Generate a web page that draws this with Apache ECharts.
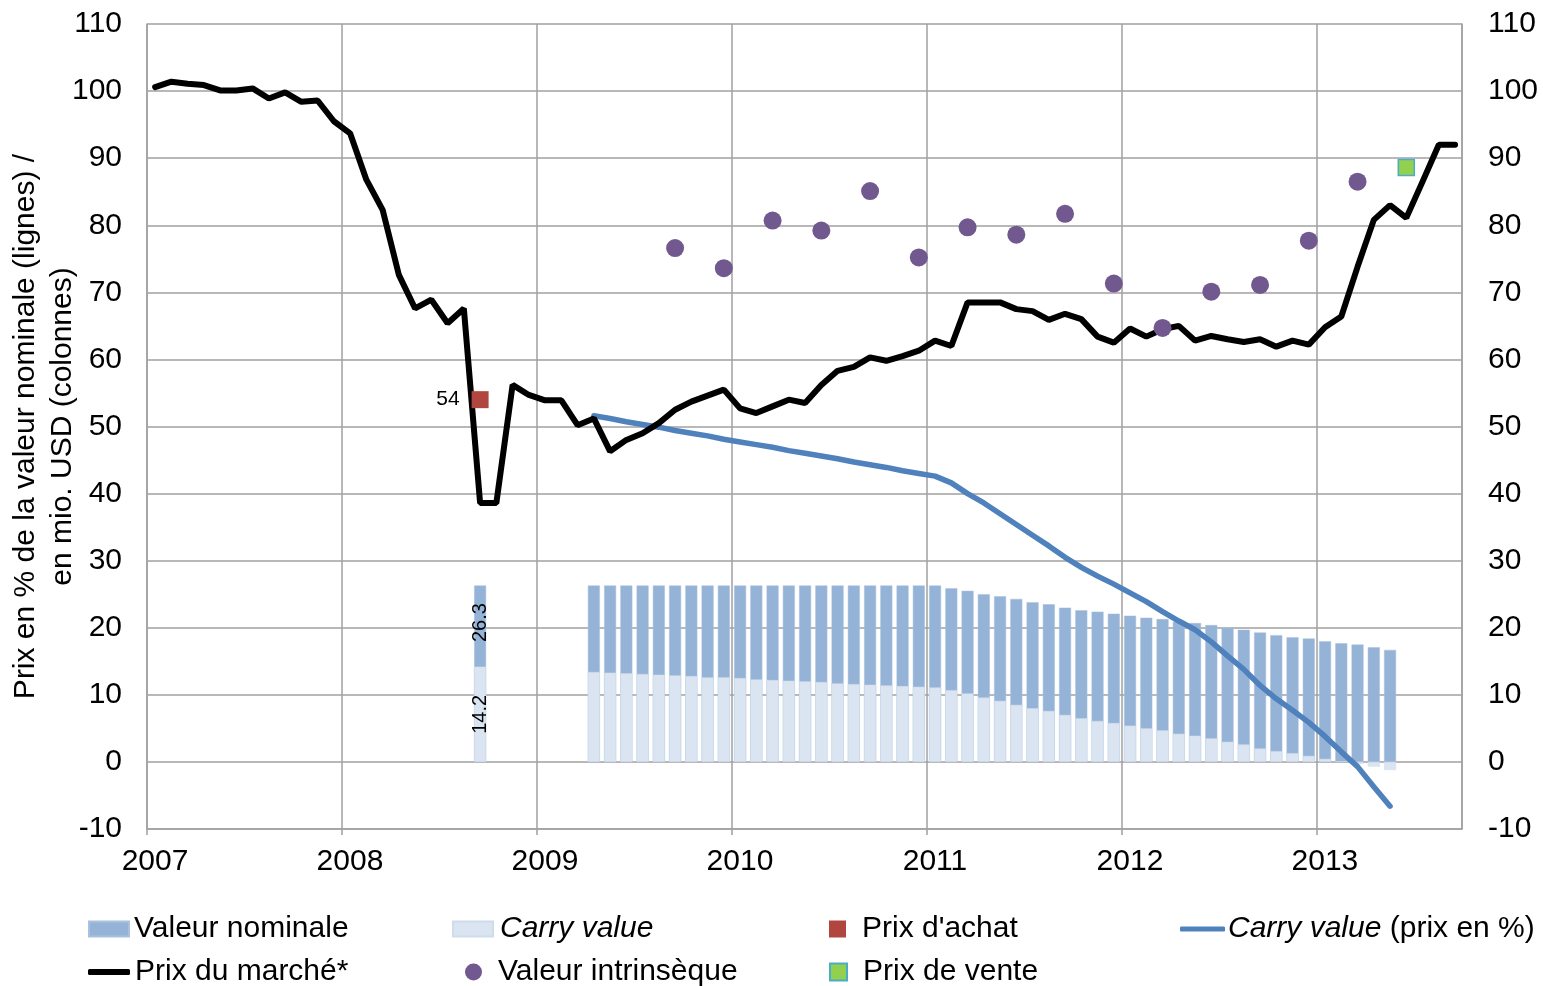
<!DOCTYPE html>
<html>
<head>
<meta charset="utf-8">
<script src="https://cdn.jsdelivr.net/npm/echarts@6/dist/echarts.min.js"></script>
<style>
  html, body { margin: 0; padding: 0; background: #fff; }
  #chart { width: 1543px; height: 986px; }
</style>
</head>
<body>
<div id="chart"></div>
<script>
// Prix du marché, mensuel (janv. 2007 - sept. 2013)
const marketStart = '2007-01'
const marketPrice = [
  100.6, 101.4, 101.1, 100.9, 100.1, 100.1, 100.4, 98.9, 99.8, 98.4, 98.6, 95.5,
  93.7, 86.8, 82.3, 72.6, 67.6, 68.9, 65.4, 67.6, 38.6, 38.6, 56.2, 54.7,
  53.9, 53.9, 50.2, 51.2, 46.3, 48.0, 49.0, 50.5, 52.5, 53.7, 54.6, 55.5,
  52.7, 52.0, 53.0, 54.0, 53.5, 56.2, 58.3, 58.9, 60.3, 59.8, 60.5, 61.3,
  62.8, 62.0, 68.5, 68.5, 68.5, 67.5, 67.2, 65.9, 66.8, 66.0, 63.4, 62.5,
  64.6, 63.4, 64.5, 65.0, 62.8, 63.5, 63.0, 62.6, 63.0, 61.9, 62.8, 62.2,
  64.8, 66.4, 73.8, 80.8, 83.0, 81.1, 86.5, 92.0, 92.0
]

// colonnes en mio. USD (avr. 2009 - mai 2013)
const barStart = '2009-04'
const nominalValue = [
  26.3, 26.3, 26.3, 26.3, 26.3, 26.3, 26.3, 26.3, 26.3, 26.3, 26.3,
  26.3, 26.3, 26.3, 26.3, 26.3, 26.3, 26.3, 26.3, 26.3, 26.3, 26.3,
  25.9, 25.5, 25.0, 24.7, 24.3, 23.8, 23.5, 23.0, 22.6, 22.4, 22.1, 21.8, 21.5, 21.3,
  20.9, 20.7, 20.4, 20.0, 19.7, 19.3, 18.9, 18.6, 18.4, 18.0, 17.7, 17.5, 17.1, 16.7
]
const carryValue = [
  13.4, 13.3, 13.2, 13.1, 13.0, 12.9, 12.8, 12.6, 12.6, 12.5, 12.3,
  12.2, 12.1, 12.0, 11.9, 11.7, 11.6, 11.5, 11.4, 11.3, 11.2, 11.1,
  10.7, 10.2, 9.6, 9.1, 8.5, 8.0, 7.6, 7.0, 6.5, 6.1, 5.8, 5.4, 5.0, 4.7,
  4.2, 3.9, 3.5, 3.0, 2.6, 2.0, 1.6, 1.3, 0.9, 0.45, 0.1, -0.3, -0.7, -1.2
]
// carry value en % de la valeur nominale
const carryPct = [
  51.6, 51.2, 50.7, 50.3, 49.9, 49.4, 49.0, 48.6, 48.1, 47.7, 47.3,
  46.9, 46.4, 46.0, 45.6, 45.2, 44.7, 44.3, 43.9, 43.4, 43.0, 42.6,
  41.6, 40.0, 38.6, 37.0, 35.4, 33.8, 32.2, 30.5, 29.0, 27.7, 26.5, 25.2, 23.9, 22.4,
  21.0, 19.7, 17.9, 15.8, 13.8, 11.4, 9.4, 7.7, 5.9, 3.8, 1.5, -0.7, -3.7, -6.6
]

// achat (sept. 2008)
const purchaseMonth = '2008-09'
const purchaseNominal = 26.3
const purchaseCarry = 14.2
const purchasePrice = 54
// vente
const saleMonth = '2013-06'
const salePrice = 88.6

// valeur intrinsèque, trimestrielle
const intrinsicMonths = ['2009-09', '2009-12', '2010-03', '2010-06', '2010-09', '2010-12', '2011-03',
  '2011-06', '2011-09', '2011-12', '2012-03', '2012-06', '2012-09', '2012-12', '2013-03']
const intrinsicValue = [76.6, 73.6, 80.7, 79.2, 85.1, 75.2, 79.7, 78.6, 81.7, 71.3, 64.7, 70.1, 71.1, 77.7, 86.5]

const FONT = 'Liberation Sans, Arial, sans-serif'
const FS = 30

// 'YYYY-MM' -> année décimale (milieu du mois)
function monthPos(s) {
  const p = s.split('-')
  return +p[0] + (+p[1] - 0.5) / 12
}
// suite de n mois à partir de start
function monthSeq(start, n) {
  let y = +start.split('-')[0]
  let m = +start.split('-')[1]
  const out = []
  for (let i = 0; i < n; i++) {
    out.push(y + '-' + String(m).padStart(2, '0'))
    m++
    if (m > 12) { m = 1; y++ }
  }
  return out
}

const marketMonths = monthSeq(marketStart, marketPrice.length)
const barMonths = monthSeq(barStart, nominalValue.length)

const labelFmt = p => String(p.value[1])

const nominalData = [{
  value: [monthPos(purchaseMonth), purchaseNominal],
  label: {
    show: true, rotate: 90, position: ['50%', '21%'], align: 'center', verticalAlign: 'middle',
    formatter: labelFmt, fontSize: 20, color: '#000', fontFamily: FONT
  }
}].concat(barMonths.map((m, i) => [monthPos(m), nominalValue[i]]))

const carryData = [{
  value: [monthPos(purchaseMonth), purchaseCarry],
  label: {
    show: true, rotate: 90, position: 'inside',
    formatter: labelFmt, fontSize: 20, color: '#000', fontFamily: FONT
  }
}].concat(barMonths.map((m, i) => [monthPos(m), carryValue[i]]))

const chart = echarts.init(document.getElementById('chart'))

const legendText = { fontSize: FS, color: '#000', fontFamily: FONT }
function legendAt(left, top, name, extra) {
  return Object.assign({
    selectedMode: false,
    padding: 0,
    itemGap: 0,
    left: left,
    top: top,
    data: [name],
    textStyle: legendText
  }, extra || {})
}
const italicRich = { i: { fontStyle: 'italic', fontSize: FS, color: '#000', fontFamily: FONT } }

const option = {
  backgroundColor: '#fff',
  animation: false,
  grid: { left: 147, right: 81, top: 24, bottom: 157, outerBoundsMode: 'none' },
  xAxis: {
    type: 'value',
    min: 2007,
    max: 2013.744,
    interval: 1,
    axisLine: { show: true, onZero: false, lineStyle: { color: '#a0a0a0', width: 1.5 } },
    axisTick: { show: true, length: 6, lineStyle: { color: '#a0a0a0', width: 1.5 } },
    splitLine: { show: true, lineStyle: { color: '#a0a0a0', width: 1.5 } },
    axisLabel: {
      fontSize: FS, color: '#000', fontFamily: FONT, margin: 18,
      padding: [0, 0, 0, 16],
      showMaxLabel: false,
      formatter: v => (Math.abs(v - Math.round(v)) < 1e-6 ? String(Math.round(v)) : '')
    }
  },
  yAxis: [{
    type: 'value',
    min: -10, max: 110, interval: 10,
    name: 'Prix en % de la valeur nominale (lignes) /\nen mio. USD (colonnes)',
    nameLocation: 'middle',
    nameRotate: 90,
    nameGap: 66,
    nameMoveOverlap: false,
    nameTextStyle: { fontSize: FS, color: '#000', fontFamily: FONT, lineHeight: 37 },
    axisLine: { show: true, lineStyle: { color: '#a0a0a0', width: 1.5 } },
    axisTick: { show: false },
    splitLine: { show: true, lineStyle: { color: '#a0a0a0', width: 1.5 } },
    axisLabel: { fontSize: FS, color: '#000', fontFamily: FONT, margin: 25 }
  }, {
    type: 'value',
    position: 'right',
    min: -10, max: 110, interval: 10,
    axisLine: { show: true, lineStyle: { color: '#a0a0a0', width: 1.5 } },
    axisTick: { show: false },
    splitLine: { show: false },
    axisLabel: { fontSize: FS, color: '#000', fontFamily: FONT, margin: 26 }
  }],
  legend: [
    legendAt(88, 914, 'Valeur nominale', { icon: 'rect', itemWidth: 40, itemHeight: 15 }),
    legendAt(452, 914, 'Carry value', {
      icon: 'rect', itemWidth: 40, itemHeight: 15,
      formatter: () => '{i|Carry value}',
      textStyle: Object.assign({}, legendText, { rich: italicRich, padding: [0, 0, 0, 2] })
    }),
    legendAt(829, 914, "Prix d'achat", {
      icon: 'rect', itemWidth: 17, itemHeight: 17,
      textStyle: Object.assign({}, legendText, { padding: [0, 0, 0, 11] })
    }),
    legendAt(1180, 914, 'Carry value (prix en %)', {
      icon: 'roundRect', itemWidth: 45, itemHeight: 5,
      formatter: () => '{i|Carry value} (prix en %)',
      textStyle: Object.assign({}, legendText, { rich: italicRich, padding: [0, 0, 0, -2] })
    }),
    legendAt(88, 957, 'Prix du marché*', { icon: 'roundRect', itemWidth: 42, itemHeight: 6 }),
    legendAt(465, 957, 'Valeur intrinsèque', {
      icon: 'circle', itemWidth: 17, itemHeight: 17,
      textStyle: Object.assign({}, legendText, { padding: [0, 0, 0, 11] })
    }),
    legendAt(829, 957, 'Prix de vente', {
      icon: 'rect', itemWidth: 17, itemHeight: 17,
      textStyle: Object.assign({}, legendText, { padding: [0, 0, 0, 11] })
    })
  ],
  series: [
    {
      name: 'Valeur nominale',
      type: 'bar',
      barWidth: 12,
      barGap: '-100%',
      z: 2,
      itemStyle: { color: '#95b3d7', borderColor: '#a9c1de', borderWidth: 0.5 },
      data: nominalData
    },
    {
      name: 'Carry value',
      type: 'bar',
      barWidth: 12,
      barGap: '-100%',
      z: 2,
      itemStyle: { color: '#dbe5f1', borderColor: '#cfdcec', borderWidth: 0.5 },
      data: carryData
    },
    {
      name: 'Carry value (prix en %)',
      type: 'line',
      z: 3,
      symbol: 'none',
      color: '#4f81bd',
      lineStyle: { color: '#4f81bd', width: 5.5, cap: 'round' },
      data: barMonths.map((m, i) => [monthPos(m), carryPct[i]])
    },
    {
      name: 'Prix du marché*',
      type: 'line',
      z: 4,
      symbol: 'none',
      color: '#000',
      lineStyle: { color: '#000', width: 6, cap: 'round' },
      data: marketMonths.map((m, i) => [monthPos(m), marketPrice[i]])
    },
    {
      name: 'Valeur intrinsèque',
      type: 'scatter',
      z: 5,
      symbol: 'circle',
      symbolSize: 18,
      itemStyle: { color: '#71588f', opacity: 1 },
      data: intrinsicMonths.map((m, i) => [monthPos(m), intrinsicValue[i]])
    },
    {
      name: "Prix d'achat",
      type: 'scatter',
      z: 6,
      symbol: 'rect',
      symbolSize: 17,
      itemStyle: { color: '#b0463f', opacity: 1 },
      label: {
        show: true, position: 'left', distance: 12,
        formatter: labelFmt, fontSize: 21, color: '#000', fontFamily: FONT
      },
      data: [[monthPos(purchaseMonth), purchasePrice]]
    },
    {
      name: 'Prix de vente',
      type: 'scatter',
      z: 6,
      symbol: 'rect',
      symbolSize: 16,
      itemStyle: { color: '#92d050', borderColor: '#4bacc6', borderWidth: 1.5, opacity: 1 },
      data: [[monthPos(saleMonth), salePrice]]
    }
  ]
}

chart.setOption(option)
</script>
</body>
</html>
